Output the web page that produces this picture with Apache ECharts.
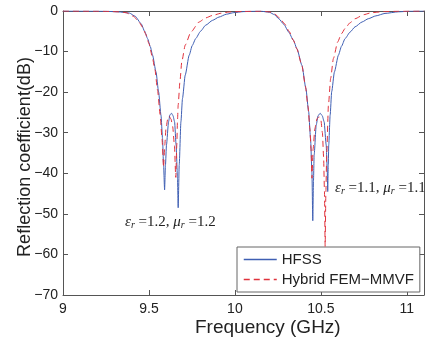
<!DOCTYPE html>
<html>
<head>
<meta charset="utf-8">
<script src="https://cdn.jsdelivr.net/npm/echarts@6/dist/echarts.min.js"></script>
<style>
  html, body { margin: 0; padding: 0; background: #fff; }
  #chart { width: 434px; height: 338px; }
</style>
</head>
<body>
<div id="chart"></div>
<script>
// 频率 (GHz) 与反射系数 (dB)
const hfssFreq = [9.00, 9.20, 9.25, 9.32, 9.386, 9.42, 9.454, 9.475, 9.492, 9.508, 9.521, 9.541, 9.556, 9.570, 9.579, 9.585, 9.591, 9.596, 9.602, 9.614, 9.622, 9.631, 9.640, 9.649, 9.658, 9.666, 9.670, 9.676, 9.686, 9.695, 9.711, 9.734, 9.752, 9.772, 9.80, 9.830, 9.87, 9.907, 9.95, 9.994, 10.05, 10.12, 10.15, 10.20, 10.23, 10.255, 10.285, 10.313, 10.34, 10.361, 10.390, 10.413, 10.429, 10.440, 10.448, 10.453, 10.457, 10.461, 10.473, 10.484, 10.496, 10.508, 10.519, 10.531, 10.537, 10.540, 10.543, 10.546, 10.554, 10.563, 10.579, 10.602, 10.62, 10.641, 10.67, 10.699, 10.74, 10.776, 10.82, 10.873, 10.95, 11.02, 11.1];
const hfssDb = [0, -0.05, -0.08, -0.2, -0.5, -1.3, -3.1, -5, -6.8, -8.8, -10.9, -15, -19.9, -25.7, -31.4, -38, -44.1, -38, -33, -27.3, -25.6, -25.2, -25.8, -27.3, -33, -41.2, -48.5, -38, -27.3, -21.6, -15.8, -10.9, -8.5, -6.8, -5, -3.5, -2.3, -1.5, -0.8, -0.4, -0.15, -0.05, -0.05, -0.3, -0.9, -1.9, -3.3, -5.2, -7.2, -9.3, -13.4, -19.1, -24.8, -31.4, -39.6, -51.7, -42, -35.5, -28.1, -25.8, -25.2, -25.8, -27.3, -33, -39, -44.5, -38, -33, -25.7, -19.9, -15, -10.9, -8.7, -6.8, -5.2, -3.9, -2.7, -1.9, -1.2, -0.6, -0.2, -0.05, 0];

const hybridFreq = [9.00, 9.20, 9.27, 9.32, 9.367, 9.41, 9.445, 9.463, 9.48, 9.50, 9.518, 9.535, 9.55, 9.565, 9.576, 9.585, 9.592, 9.60, 9.61, 9.618, 9.628, 9.638, 9.648, 9.656, 9.662, 9.666, 9.670, 9.680, 9.691, 9.711, 9.744, 9.792, 9.83, 9.869, 9.92, 9.965, 10.05, 10.15, 10.20, 10.23, 10.26, 10.29, 10.315, 10.34, 10.36, 10.39, 10.41, 10.425, 10.436, 10.443, 10.448, 10.455, 10.465, 10.478, 10.49, 10.50, 10.509, 10.516, 10.521, 10.525, 10.529, 10.534, 10.544, 10.557, 10.573, 10.598, 10.62, 10.641, 10.67, 10.699, 10.75, 10.795, 10.87, 10.95, 11.1];
const hybridDb = [0, -0.05, -0.1, -0.2, -0.4, -1.3, -2.9, -4, -5.6, -8, -11, -14.5, -19.5, -25.5, -31.5, -38.5, -33, -28.5, -26.5, -26, -26.6, -28.5, -33, -41, -33, -27, -23.2, -17.5, -12.5, -8.4, -5.2, -2.7, -1.7, -1.1, -0.55, -0.25, -0.1, -0.05, -0.2, -0.7, -1.7, -3.2, -5.0, -7.2, -9.3, -13.5, -18.5, -23.5, -29, -34, -41.2, -34, -29, -26.5, -26.1, -26.8, -30, -36, -44.5, -58, -45, -35.5, -23.2, -16.6, -11.7, -7.6, -5.6, -4.3, -2.9, -1.9, -0.9, -0.4, -0.15, -0.05, 0];

const seriesNames = ['HFSS', 'Hybrid FEM\u2212MMVF'];
const seriesColors = ['#3f5fb3', '#e0323c'];
const annotations = [
  { eps: '1.2', mu: '1.2' },
  { eps: '1.1', mu: '1.1' }
];

const AXIS_COLOR = '#555';
const TEXT_COLOR = '#222';
const SANS = '"Liberation Sans", Arial, sans-serif';
const SERIF = '"Liberation Serif", "Times New Roman", serif';

function pairs(xs, ys) {
  return xs.map((x, i) => [x, ys[i]]);
}

function annoText(a) {
  return '{g|\u03b5}{s|r}{t| =' + a.eps + ', }{g|\u03bc}{s|r}{t| =' + a.mu + '}';
}

const annoRich = {
  g: { fontFamily: SERIF, fontStyle: 'italic', fontSize: 15, fill: TEXT_COLOR },
  s: { fontFamily: SERIF, fontStyle: 'italic', fontSize: 10, fill: TEXT_COLOR, padding: [6, 0, 0, 0] },
  t: { fontFamily: SERIF, fontSize: 15, fill: TEXT_COLOR }
};

const frameAxis = {
  axisLine: { show: true, onZero: false, lineStyle: { color: AXIS_COLOR, width: 1 } },
  axisTick: { show: true, inside: true, length: 5, lineStyle: { color: AXIS_COLOR } },
  splitLine: { show: false }
};

const chart = echarts.init(document.getElementById('chart'));
chart.setOption({
  animation: false,
  backgroundColor: '#fff',
  grid: { left: 63, right: 10, top: 11, bottom: 43 },
  xAxis: [
    Object.assign({
      type: 'value', min: 9, max: 11.1, interval: 0.5, position: 'bottom',
      axisLabel: {
        showMaxLabel: false, margin: 7, fontSize: 14, color: TEXT_COLOR, fontFamily: SANS
      }
    }, frameAxis),
    Object.assign({
      type: 'value', min: 9, max: 11.1, interval: 0.5, position: 'top',
      axisLabel: { show: false }
    }, frameAxis)
  ],
  yAxis: [
    Object.assign({
      type: 'value', min: -70, max: 0, interval: 10, position: 'left',
      axisLabel: {
        margin: 5, fontSize: 14, color: TEXT_COLOR, fontFamily: SANS,
        formatter: v => String(v).replace('-', '\u2212')
      }
    }, frameAxis),
    Object.assign({
      type: 'value', min: -70, max: 0, interval: 10, position: 'right',
      axisLabel: { show: false }
    }, frameAxis)
  ],
  legend: {
    orient: 'vertical',
    left: 237, top: 247,
    padding: [5, 6, 5, 6],
    itemWidth: 33, itemHeight: 13, itemGap: 5,
    itemStyle: { opacity: 0 },
    backgroundColor: '#fff',
    borderColor: '#666', borderWidth: 1,
    textStyle: { fontSize: 15, color: TEXT_COLOR, fontFamily: SANS },
    data: [
      { name: seriesNames[0], lineStyle: { color: seriesColors[0], width: 1.5, type: 'solid', opacity: 1 } },
      { name: seriesNames[1], lineStyle: { color: seriesColors[1], width: 1.5, type: [6, 4], opacity: 1 } }
    ]
  },
  series: [
    {
      name: seriesNames[0], type: 'line', symbol: 'none', smooth: 0.2, smoothMonotone: 'x',
      lineStyle: { color: seriesColors[0], width: 1 }, itemStyle: { color: seriesColors[0] },
      data: pairs(hfssFreq, hfssDb), z: 3
    },
    {
      name: seriesNames[1], type: 'line', symbol: 'none', smooth: 0.2, smoothMonotone: 'x',
      lineStyle: { color: seriesColors[1], width: 1, type: [6, 4] }, itemStyle: { color: seriesColors[1] },
      data: pairs(hybridFreq, hybridDb), z: 4
    }
  ],
  graphic: [
    {
      type: 'text', left: 125, top: 215,
      style: { text: annoText(annotations[0]), rich: annoRich }
    },
    {
      type: 'text', left: 335, top: 181,
      style: { text: annoText(annotations[1]), rich: annoRich }
    },
    {
      type: 'text', x: 25, y: 157, rotation: Math.PI / 2,
      style: { text: 'Reflection coefficient(dB)', font: '18px ' + SANS, fill: TEXT_COLOR, align: 'center', verticalAlign: 'middle' }
    },
    {
      type: 'text', left: 195, top: 318,
      style: { text: 'Frequency (GHz)', font: '19px ' + SANS, fill: TEXT_COLOR }
    }
  ]
});
</script>
</body>
</html>
